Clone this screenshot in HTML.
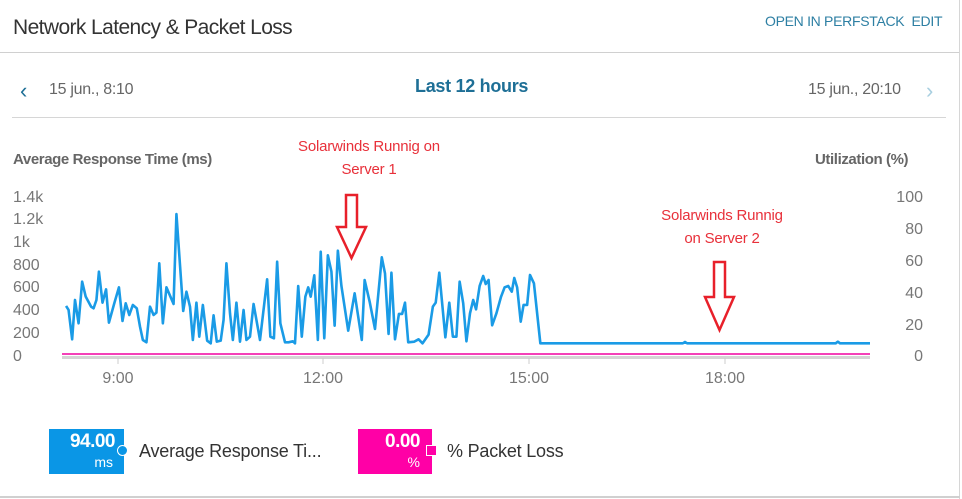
<!DOCTYPE html>
<html><head><meta charset="utf-8"><style>
body{margin:0;width:962px;height:499px;background:#fff;overflow:hidden;font-family:"Liberation Sans",sans-serif;position:relative}
.a{position:absolute;white-space:nowrap}
</style></head><body>
<div class="a" style="left:959px;top:0;width:1px;height:499px;background:#d6d6d6"></div>
<div class="a" style="left:0;top:496px;width:960px;height:2px;background:#d0d0d0"></div>
<div class="a" style="left:0;top:52px;width:959px;height:1px;background:#d0d0d0"></div>
<div class="a" style="left:12px;top:117px;width:934px;height:1px;background:#d6d6d6"></div>
<div class="a" style="left:13px;top:16px;font-size:21px;color:#333;letter-spacing:-0.6px;font-weight:500">Network Latency &amp; Packet Loss</div>
<div class="a" style="left:765px;top:13px;font-size:14px;color:#2d7fa3;letter-spacing:-0.3px">OPEN IN PERFSTACK&nbsp; EDIT</div>
<div class="a" style="left:20px;top:78px;font-size:22px;color:#1e6f96">‹</div>
<div class="a" style="left:49px;top:81px;font-size:16px;color:#666;letter-spacing:-0.3px">15 jun., 8:10</div>
<div class="a" style="left:415px;top:76px;font-size:18px;font-weight:bold;color:#1e6f96;letter-spacing:-0.3px">Last 12 hours</div>
<div class="a" style="left:808px;top:81px;font-size:16px;color:#666;letter-spacing:-0.3px">15 jun., 20:10</div>
<div class="a" style="left:926px;top:78px;font-size:22px;color:#a8cfe0">›</div>
<div class="a" style="left:13px;top:151px;font-size:15px;font-weight:bold;color:#666;letter-spacing:-0.4px">Average Response Time (ms)</div>
<div class="a" style="left:815px;top:151px;font-size:15px;font-weight:bold;color:#666;letter-spacing:-0.4px">Utilization (%)</div>
<div class="a" style="left:287px;top:135px;font-size:15px;color:#e8303a;text-align:center;width:164px;line-height:23px;letter-spacing:-0.2px">Solarwinds Runnig on<br>Server 1</div>
<div class="a" style="left:640px;top:204px;font-size:15px;color:#e8303a;text-align:center;width:164px;line-height:23px;letter-spacing:-0.2px">Solarwinds Runnig<br>on Server 2</div>
<svg class="a" style="left:0;top:0" width="962" height="499">
<g font-family="Liberation Sans" font-size="16" fill="#777">
<text x="13" y="202">1.4k</text><text x="13" y="224">1.2k</text><text x="13" y="247">1k</text>
<text x="13" y="270">800</text><text x="13" y="292">600</text><text x="13" y="315">400</text>
<text x="13" y="338">200</text><text x="13" y="361">0</text>
<g text-anchor="end"><text x="923" y="202">100</text><text x="923" y="234">80</text><text x="923" y="266">60</text><text x="923" y="298">40</text><text x="923" y="330">20</text><text x="923" y="361">0</text></g>
<g text-anchor="middle"><text x="118" y="383">9:00</text><text x="323" y="383">12:00</text><text x="529" y="383">15:00</text><text x="725" y="383">18:00</text></g>
</g>
<rect x="62" y="356" width="808" height="3" fill="#d4d4d4"/>
<g stroke="#ccc" stroke-width="1"><line x1="118" y1="358" x2="118" y2="364"/><line x1="323" y1="358" x2="323" y2="364"/><line x1="529" y1="358" x2="529" y2="364"/><line x1="725" y1="358" x2="725" y2="364"/></g>
<line x1="62" y1="354" x2="870" y2="354" stroke="#f000a0" stroke-width="1.5"/>
<g transform="translate(0,180) scale(0.35714,0.3333)">
<polyline fill="none" stroke="#1a9be6" stroke-width="2.6" vector-effect="non-scaling-stroke" stroke-linejoin="round" points="185,378 192,390 202,478 210,360 220,430 230,305 240,350 255,380 262,385 270,360 277,275 287,368 297,328 305,428 320,370 333,322 343,423 352,370 362,405 372,375 383,385 392,440 400,480 410,487 420,380 430,405 438,398 446,250 456,430 466,322 486,372 494,102 513,393 522,335 532,380 540,480 550,368 558,470 568,375 580,482 590,490 598,406 607,485 618,482 626,420 634,250 644,400 652,480 662,368 672,485 682,390 690,480 700,470 710,372 728,480 748,298 757,470 767,475 776,245 785,430 798,487 808,487 820,484 826,490 835,318 845,470 855,350 863,322 870,350 880,286 890,480 898,215 908,475 918,226 928,275 937,437 946,212 956,318 975,452 993,340 1013,480 1021,300 1035,365 1050,447 1069,232 1078,280 1088,462 1096,278 1106,478 1117,402 1126,402 1134,368 1143,487 1160,485 1172,478 1183,490 1200,464 1212,380 1220,368 1230,278 1247,472 1258,368 1268,470 1278,470 1287,305 1297,370 1306,484 1316,400 1325,360 1333,388 1343,318 1353,288 1360,312 1368,300 1378,436 1390,400 1403,350 1413,322 1423,318 1433,335 1440,294 1448,322 1458,425 1466,375 1476,375 1484,285 1495,310 1513,490 1912,490 1918,486 1924,490 2340,490 2346,485 2352,490 2436,490"/>
</g>
<g fill="#fff" stroke="#e8202a" stroke-width="2.5">
<path d="M346,195 H357 V227 H366 L351.5,258 L337,227 H346 Z"/>
<path d="M714,262 H725 V297 H734 L719.5,330 L705,297 H714 Z"/>
</g>
</svg>
<div class="a" style="left:49px;top:429px;width:75px;height:45px;background:#0a96e6;color:#fff;text-align:right">
<div style="font-size:19px;font-weight:bold;padding-right:9px;margin-top:2px;letter-spacing:-0.5px">94.00</div>
<div style="font-size:14px;padding-right:11px;margin-top:1px">ms</div></div>
<div class="a" style="left:117px;top:445px;width:11px;height:11px;border-radius:50%;background:#0a96e6;border:1.5px solid #fff;box-sizing:border-box"></div>
<div class="a" style="left:139px;top:441px;font-size:18px;color:#333;letter-spacing:-0.2px">Average Response Ti...</div>
<div class="a" style="left:358px;top:429px;width:74px;height:45px;background:#ff00a6;color:#fff;text-align:right">
<div style="font-size:19px;font-weight:bold;padding-right:12px;margin-top:2px;letter-spacing:-0.5px">0.00</div>
<div style="font-size:14px;padding-right:12px;margin-top:1px">%</div></div>
<div class="a" style="left:426px;top:445px;width:11px;height:11px;background:#ff00a6;border:1.5px solid #fff;box-sizing:border-box"></div>
<div class="a" style="left:447px;top:441px;font-size:18px;color:#333;letter-spacing:-0.2px">% Packet Loss</div>
</body></html>
